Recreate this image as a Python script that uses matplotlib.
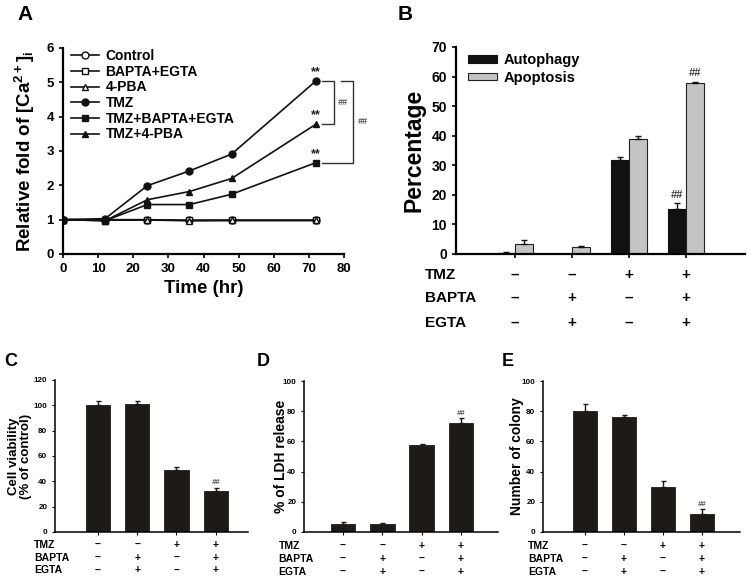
import matplotlib
matplotlib.use('Agg')
import matplotlib.pyplot as plt
import numpy as np

plt.rcParams['font.family'] = ['Liberation Sans', 'DejaVu Sans']
plt.rcParams['font.weight'] = 'bold'
plt.rcParams['axes.labelweight'] = 'bold'
plt.rcParams['mathtext.fontset'] = 'custom'
plt.rcParams['mathtext.rm'] = 'Liberation Sans:bold'
plt.rcParams['mathtext.it'] = 'Liberation Sans:bold'
plt.rcParams['mathtext.bf'] = 'Liberation Sans:bold'

# panel A: relative [Ca2+]i over time
hours = [0, 12, 24, 36, 48, 72]
ca_control = [1.0, 1.0, 1.0, 0.98, 0.98, 0.98]
ca_bapta_egta = [1.0, 0.99, 0.99, 0.98, 0.98, 0.98]
ca_pba = [1.0, 0.99, 0.99, 0.97, 0.98, 0.98]
ca_tmz = [1.0, 1.03, 1.99, 2.42, 2.91, 5.04]
ca_tmz_bapta_egta = [1.0, 0.97, 1.44, 1.44, 1.74, 2.66]
ca_tmz_pba = [1.0, 0.97, 1.58, 1.82, 2.2, 3.78]

# panel B: autophagy / apoptosis
autophagy = [0.5, 0.0, 31.7, 15.3]
autophagy_err = [0.2, 0.0, 1.0, 1.8]
apoptosis = [3.4, 2.3, 39.0, 57.8]
apoptosis_err = [1.2, 0.3, 1.0, 0.5]

# panels C, D, E
viability = [100.0, 101.1, 49.1, 32.0]
viability_err = [3.7, 2.6, 1.9, 2.7]
ldh = [5.5, 5.5, 57.5, 71.9]
ldh_err = [0.9, 0.2, 1.1, 3.3]
colony = [79.9, 76.3, 30.1, 11.8]
colony_err = [4.9, 1.4, 3.4, 3.2]

row_names = ['TMZ', 'BAPTA', 'EGTA']
treat_tmz = ['–', '–', '+', '+']
treat_bapta = ['–', '+', '–', '+']
treat_egta = ['–', '+', '–', '+']

W, H = 748, 588
fig = plt.figure(figsize=(W / 100, H / 100), dpi=100)


def px_axes(left, top, right, bottom):
    return fig.add_axes([left / W, 1 - bottom / H, (right - left) / W, (bottom - top) / H])


def treatment_rows(ax, label_x, row_y, fs):
    rows = [treat_tmz, treat_bapta, treat_egta]
    for name, signs, y in zip(row_names, rows, row_y):
        ax.text(label_x, y, name, transform=ax.transAxes, ha='left', va='center',
                fontsize=fs, fontweight='bold', clip_on=False)
        for i, s in enumerate(signs):
            ax.text(i, y, s, transform=ax.get_xaxis_transform(), ha='center', va='center',
                    fontsize=fs, fontweight='bold', clip_on=False)


# ---------------- A ----------------
axA = px_axes(63, 48, 344, 254)
dark = '#111111'
axA.plot(hours, ca_control, '-o', color=dark, mfc='white', ms=5, lw=1.2, label='Control')
axA.plot(hours, ca_bapta_egta, '-s', color=dark, mfc='white', ms=5, lw=1.2, label='BAPTA+EGTA')
axA.plot(hours, ca_pba, '-^', color=dark, mfc='white', ms=5, lw=1.2, label='4-PBA')
axA.plot(hours, ca_tmz, '-o', color=dark, ms=5, lw=1.2, label='TMZ')
axA.plot(hours, ca_tmz_bapta_egta, '-s', color=dark, ms=5, lw=1.2, label='TMZ+BAPTA+EGTA')
axA.plot(hours, ca_tmz_pba, '-^', color=dark, ms=5, lw=1.2, label='TMZ+4-PBA')
axA.set_xlim(0, 80)
axA.set_ylim(0, 6)
axA.set_xticks(range(0, 81, 10))
axA.set_yticks(range(0, 7))
for sp in ['top', 'right']:
    axA.spines[sp].set_visible(False)
for sp in ['left', 'bottom']:
    axA.spines[sp].set_linewidth(1.6)
axA.tick_params(direction='out', length=3, width=1.2, labelsize=9.5)
axA.set_ylabel(r'Relative fold of [Ca$^{2+}$]$_{\rm i}$', fontsize=13.5)
axA.yaxis.set_label_coords(-0.093, 0.5)
axA.set_xlabel('Time (hr)', fontsize=13.5)
axA.xaxis.set_label_coords(0.5, -0.128)
axA.legend(loc='upper left', bbox_to_anchor=(0.028, 0.995), frameon=False, fontsize=10,
           handlelength=2.0, handletextpad=0.5, labelspacing=0.12, borderpad=0, borderaxespad=0)

# significance marks
last = len(hours) - 1
for series in [ca_tmz, ca_tmz_pba, ca_tmz_bapta_egta]:
    axA.annotate('**', (hours[last], series[last]), xytext=(0, 2), textcoords='offset points',
                 ha='center', va='bottom', fontsize=9, color='#222222')
t, p, b = ca_tmz[last], ca_tmz_pba[last], ca_tmz_bapta_egta[last]
axA.plot([73.7, 77.2, 77.2, 73.7], [t, t, p, p], color='#333333', lw=1, clip_on=False)
axA.plot([79.1, 82.6, 82.6, 73.7], [t, t, b, b], color='#333333', lw=1, clip_on=False)
axA.text(79.6, (t + p) / 2, '##', ha='center', va='center', fontsize=6.5, style='italic',
         color='#555555', clip_on=False)
axA.text(85.4, (t + b) / 2, '##', ha='center', va='center', fontsize=6.5, style='italic',
         color='#555555', clip_on=False)

# ---------------- B ----------------
axB = px_axes(456, 47, 745, 254)
x = np.arange(4)
bw = 0.31
axB.bar(x - bw / 2, autophagy, bw, color='#111111', edgecolor='#111111', lw=0.8, label='Autophagy',
        yerr=[np.zeros(4), autophagy_err], error_kw=dict(ecolor='#111111', elinewidth=1, capsize=2.2, capthick=1))
axB.bar(x + bw / 2, apoptosis, bw, color='#c4c4c6', edgecolor='#222222', lw=0.8, label='Apoptosis',
        yerr=[np.zeros(4), apoptosis_err], error_kw=dict(ecolor='#111111', elinewidth=1, capsize=2.2, capthick=1))
axB.set_xlim(-1.03, 4.03)
axB.set_ylim(0, 70)
axB.set_yticks(range(0, 71, 10))
axB.set_xticks(x)
axB.set_xticklabels([])
for sp in ['top', 'right']:
    axB.spines[sp].set_visible(False)
for sp in ['left', 'bottom']:
    axB.spines[sp].set_linewidth(1.6)
axB.tick_params(direction='out', length=3, width=1.2, labelsize=10)
axB.set_ylabel('Percentage', fontsize=16.5)
axB.yaxis.set_label_coords(-0.107, 0.5)
axB.legend(loc='upper left', bbox_to_anchor=(0.04, 0.97), frameon=False, fontsize=10.5,
           handlelength=2.0, handleheight=0.4, handletextpad=0.5, labelspacing=0.25,
           borderpad=0, borderaxespad=0)
axB.text(x[3] - bw / 2, autophagy[3] + autophagy_err[3] + 1.2, '##', ha='center', va='bottom',
         fontsize=8, color='#444444')
axB.text(x[3] + bw / 2, apoptosis[3] + apoptosis_err[3] + 1.2, '##', ha='center', va='bottom',
         fontsize=8, color='#444444')
treatment_rows(axB, -0.107, [-0.10, -0.213, -0.333], 11)


# ---------------- C, D, E ----------------
def small_bar(ax, vals, errs, ymax, ystep, xlim, ylabel, label_xy, label_fs):
    xx = np.arange(len(vals))
    ax.bar(xx, vals, 0.62, color='#1e1a18', edgecolor='#1e1a18', lw=0.6,
           yerr=[np.zeros(len(vals)), errs],
           error_kw=dict(ecolor='#1e1a18', elinewidth=1, capsize=1.8, capthick=1))
    ax.set_xlim(*xlim)
    ax.set_ylim(0, ymax)
    ax.set_yticks(range(0, ymax + 1, ystep))
    ax.set_xticks(xx)
    ax.set_xticklabels([])
    for sp in ['top', 'right']:
        ax.spines[sp].set_visible(False)
    for sp in ['left', 'bottom']:
        ax.spines[sp].set_linewidth(1.1)
    ax.tick_params(direction='out', length=2, width=0.8, labelsize=5.8)
    ax.set_ylabel(ylabel, fontsize=label_fs, linespacing=1.0)
    ax.yaxis.set_label_coords(*label_xy)
    ax.text(xx[3], vals[3] + errs[3] + ymax * 0.012, '##', ha='center', va='bottom',
            fontsize=5.5, color='#555555', style='italic')


axC = px_axes(55, 380, 248, 532)
small_bar(axC, viability, viability_err, 120, 20, (-1.09, 3.82),
          'Cell viability\n(% of control)', (-0.12, 0.5), 9.5)
treatment_rows(axC, -0.107, [-0.087, -0.171, -0.253], 7.5)

axD = px_axes(304, 381, 498, 532)
small_bar(axD, ldh, ldh_err, 100, 20, (-0.99, 3.94),
          '% of LDH release', (-0.082, 0.5), 10)
treatment_rows(axD, -0.132, [-0.092, -0.177, -0.264], 7.5)

axE = px_axes(543, 381, 740, 532)
small_bar(axE, colony, colony_err, 100, 20, (-1.07, 3.97),
          'Number of colony', (-0.096, 0.5), 10)
treatment_rows(axE, -0.075, [-0.09, -0.176, -0.264], 7.5)

# panel letters
for letter, lx, ly, fs in [('A', 17, 15, 15), ('B', 398, 14, 15), ('C', 4, 361, 13),
                           ('D', 257, 361, 13), ('E', 502, 361, 13)]:
    fig.text(lx / W, 1 - ly / H, letter, ha='left', va='center', fontsize=fs, fontweight='bold')

fig.savefig('out.png', dpi=100)
